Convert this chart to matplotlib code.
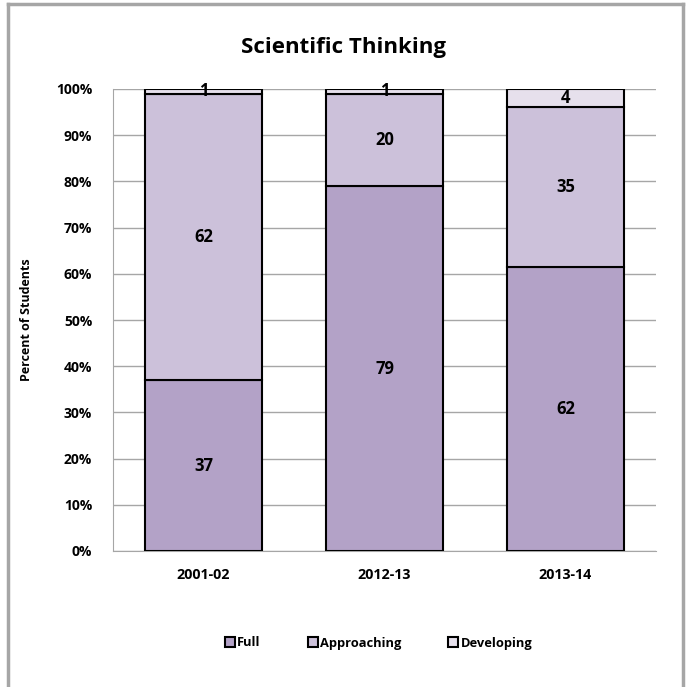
import matplotlib.pyplot as plt
import numpy as np
from matplotlib.lines import Line2D

plt.rcParams['font.family'] = ['Open Sans', 'DejaVu Sans']
plt.rcParams['font.weight'] = 'bold'

years = ['2001-02', '2012-13', '2013-14']
full = [37, 79, 61.5]
approaching = [62, 20, 34.6]
developing = [1, 1, 3.9]

series = ['Full', 'Approaching', 'Developing']
colors = ['#B3A2C7', '#CCC1DA', '#E6E0EC']

fig = plt.figure(figsize=(6.87, 6.87), dpi=100)
ax = fig.add_axes([113 / 687, 1 - 551 / 687, 543 / 687, 462 / 687])

x = np.arange(len(years))
bottom = np.zeros(len(years))
for vals, name, col in zip([full, approaching, developing], series, colors):
    vals = np.array(vals)
    ax.bar(x, vals, 0.65, bottom=bottom, color=col, edgecolor='black',
           linewidth=1.5, label=name, zorder=3)
    for xi, b, v in zip(x, bottom, vals):
        ax.text(xi, b + v / 2, f'{v:.0f}', ha='center', va='center',
                fontsize=12, fontweight='bold', zorder=4)
    bottom += vals

ax.set_xlim(-0.5, 2.5)
ax.set_ylim(0, 100)
ax.set_yticks(np.arange(0, 101, 10))
ax.set_yticklabels([f'{v}%' for v in range(0, 101, 10)])
ax.set_xticks(x)
ax.set_xticklabels(years)
ax.tick_params(axis='x', length=0, labelsize=10.3, pad=12)
ax.tick_params(axis='y', length=0, labelsize=10, pad=15)
ax.grid(axis='y', color='#A6A6A6', linewidth=1, zorder=0)
for s in ['top', 'right']:
    ax.spines[s].set_visible(False)
for s in ['left', 'bottom']:
    ax.spines[s].set_color('#A6A6A6')

ax.set_ylabel('Percent of Students', fontsize=9, fontweight='bold')
ax.yaxis.set_label_coords(-0.147, 0.5)

fig.text(0.5, 1 - 47 / 687, 'Scientific Thinking', ha='center', va='center',
         fontsize=16, fontweight='bold')

handles = [Line2D([], [], marker='s', linestyle='none', markersize=7.5,
                  markerfacecolor=c, markeredgecolor='black', markeredgewidth=1.5)
           for c in colors]
fig.legend(handles, series, loc='center', bbox_to_anchor=(378 / 687, 1 - 643 / 687),
           ncol=3, frameon=False, fontsize=9.3, handletextpad=0.1,
           columnspacing=3.5, handlelength=1)

# outer frame lines
frame = '#A6A6A6'
fig.add_artist(Line2D([8 / 687, 8 / 687], [0, 1 - 4 / 687], color=frame,
                      linewidth=2.5, transform=fig.transFigure))
fig.add_artist(Line2D([683 / 687, 683 / 687], [0, 1 - 4 / 687], color=frame,
                      linewidth=2.5, transform=fig.transFigure))
fig.add_artist(Line2D([8 / 687, 683 / 687], [1 - 4 / 687, 1 - 4 / 687], color=frame,
                      linewidth=2.5, transform=fig.transFigure))

fig.savefig('out.png', dpi=100)
